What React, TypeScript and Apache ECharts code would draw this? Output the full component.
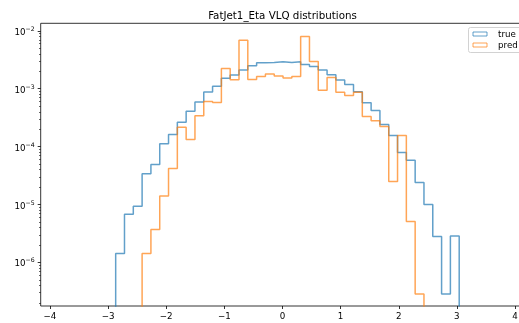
import React, { useEffect, useRef } from 'react';
import * as echarts from 'echarts';

// Histogram binning (shared by both series)
const binLow = -2.87;
const binHigh = 3.04;
const binCount = 39;

// Normalised bin heights (0 = empty bin)
const trueValues = [
  1.43e-6, 6.8e-6, 9.3e-6, 3.4e-5, 4.9e-5, 1.12e-4, 1.62e-4, 2.64e-4, 4.1e-4, 5.9e-4,
  8.8e-4, 1.1e-3, 1.51e-3, 1.72e-3, 2.1e-3, 2.5e-3, 2.8e-3, 2.85e-3, 2.92e-3, 2.85e-3,
  2.92e-3, 2.63e-3, 2.43e-3, 2.1e-3, 1.75e-3, 1.42e-3, 1.18e-3, 8.9e-4, 5.7e-4, 4.2e-4,
  2.4e-4, 1.56e-4, 7.9e-5, 5.8e-5, 2.4e-5, 1.0e-5, 2.8e-6, 2.85e-7, 2.87e-6,
];
const predValues = [
  0, 0, 0, 1.43e-6, 3.7e-6, 1.4e-5, 4.2e-5, 2.16e-4, 1.33e-4, 3.4e-4,
  6.0e-4, 5.8e-4, 2.24e-3, 1.43e-3, 6.9e-3, 1.45e-3, 1.63e-3, 1.8e-3, 1.66e-3, 1.53e-3,
  1.63e-3, 7.97e-3, 2.96e-3, 9.4e-4, 1.57e-3, 8.7e-4, 7.6e-4, 8.7e-4, 3.3e-4, 2.8e-4,
  2.22e-4, 2.5e-5, 1.56e-4, 5.1e-6, 2.85e-7, 0, 0, 0, 0,
];

const seriesNames = ['true', 'pred'];
const xTickValues = [-4, -3, -2, -1, 0, 1, 2, 3, 4];
const yTickValues = [1e-6, 1e-5, 1e-4, 1e-3, 1e-2];
const yMinorMultipliers = [2, 3, 4, 5, 6, 7, 8, 9];
const yMinorDecades = [1e-7, 1e-6, 1e-5, 1e-4, 1e-3, 1e-2];
const xRange = [-4.16, 4.16];
const yRange = [1.766e-7, 1.349e-2];

const FONT = 'DejaVu Sans';
const BLUE = '#1f77b4';
const ORANGE = '#ff7f0e';

function outline(values: number[]): number[][] {
  const w = (binHigh - binLow) / binCount;
  const edge = (i: number) => binLow + i * w;
  const floor = 1e-12;
  const pts: number[][] = [[edge(0), floor]];
  values.forEach((v, i) => {
    const y = v > 0 ? v : floor;
    pts.push([edge(i), y], [edge(i + 1), y]);
  });
  pts.push([edge(values.length), floor]);
  return pts;
}

const minorTicks: number[] = [];
yMinorDecades.forEach((d) => yMinorMultipliers.forEach((m) => {
  const v = m * d;
  if (v >= yRange[0] && v <= yRange[1]) minorTicks.push(v);
}));

export default function App() {
  const ref = useRef<HTMLDivElement>(null);
  useEffect(() => {
    if (!ref.current) return;
    const chart = echarts.init(ref.current, null, { renderer: 'svg' });
    const yLabelFormatter = (v: number) => {
      const e = Math.round(Math.log10(v));
      return `{b|10}{s|${e < 0 ? '\u2212' : ''}${Math.abs(e)}}`;
    };
    chart.setOption({
      animation: false,
      title: {
        text: 'FatJet1_Eta VLQ distributions',
        left: 282.5,
        textAlign: 'center',
        top: 9.5,
        padding: 0,
        textStyle: { fontFamily: FONT, fontSize: 10.3, fontWeight: 'normal', color: '#000' },
      },
      legend: {
        orient: 'vertical',
        left: 468.5,
        top: 27.5,
        padding: [2, 8, 3, 4],
        itemGap: 2,
        itemWidth: 14,
        itemHeight: 4,
        borderColor: '#d2d2d2',
        borderWidth: 1,
        borderRadius: 2,
        backgroundColor: 'rgba(255,255,255,0.8)',
        textStyle: { fontFamily: FONT, fontSize: 8.7, color: '#000', padding: [0, 0, 0, 6] },
        data: [
          { name: seriesNames[0], icon: 'rect', itemStyle: { color: 'rgba(0,0,0,0)', borderColor: BLUE, borderWidth: 1, opacity: 0.7 } },
          { name: seriesNames[1], icon: 'rect', itemStyle: { color: 'rgba(0,0,0,0)', borderColor: ORANGE, borderWidth: 1, opacity: 0.7 } },
        ],
      },
      grid: {
        left: 40.7,
        width: 483.6,
        top: 23.3,
        bottom: 17,
        outerBoundsMode: 'none',
        containLabel: false,
        show: true,
        borderColor: '#000',
        borderWidth: 0.8,
        backgroundColor: 'transparent',
      },
      xAxis: {
        type: 'value',
        min: xRange[0],
        max: xRange[1],
        axisLine: { show: false, onZero: false },
        splitLine: { show: false },
        axisTick: { show: true, length: 3, lineStyle: { color: '#000', width: 0.8 }, customValues: xTickValues },
        axisLabel: {
          customValues: xTickValues,
          margin: 5,
          fontFamily: FONT,
          fontSize: 8.7,
          color: '#000',
          formatter: (v: number) => (v < 0 ? '\u2212' + Math.abs(v) : String(v)),
        },
      },
      yAxis: [
        {
          type: 'log',
          min: yRange[0],
          max: yRange[1],
          position: 'left',
          axisLine: { show: false, onZero: false },
          splitLine: { show: false },
          minorTick: { show: false },
          axisTick: { show: true, length: 3, lineStyle: { color: '#000', width: 0.8 }, customValues: yTickValues },
          axisLabel: {
            customValues: yTickValues,
            margin: 6,
            color: '#000',
            formatter: yLabelFormatter,
            rich: {
              b: { fontFamily: FONT, fontSize: 8.7, color: '#000', padding: [2, 0, 0, 0], verticalAlign: 'bottom' },
              s: { fontFamily: FONT, fontSize: 6.2, color: '#000', verticalAlign: 'top' },
            },
          },
        },
        {
          type: 'log',
          min: yRange[0],
          max: yRange[1],
          position: 'left',
          offset: 0,
          axisLine: { show: false, onZero: false },
          splitLine: { show: false },
          axisTick: { show: true, length: 1.7, lineStyle: { color: '#000', width: 0.6 }, customValues: minorTicks },
          axisLabel: { show: false },
        },
      ],
      series: [
        {
          name: seriesNames[0],
          type: 'line',
          data: outline(trueValues),
          showSymbol: false,
          symbol: 'none',
          clip: true,
          color: BLUE,
          lineStyle: { color: BLUE, width: 1.5, opacity: 0.7 },
          itemStyle: { color: BLUE },
        },
        {
          name: seriesNames[1],
          type: 'line',
          data: outline(predValues),
          showSymbol: false,
          symbol: 'none',
          clip: true,
          color: ORANGE,
          lineStyle: { color: ORANGE, width: 1.5, opacity: 0.7 },
          itemStyle: { color: ORANGE },
        },
      ],
    });
    return () => chart.dispose();
  }, []);
  return <div ref={ref} style={{ position: 'fixed', left: 0, top: 0, width: 519, height: 323 }} />;
}
